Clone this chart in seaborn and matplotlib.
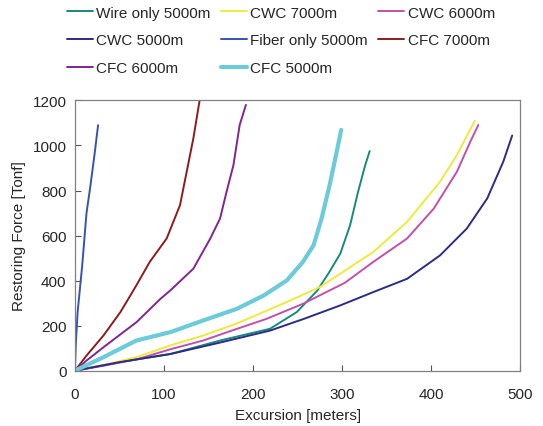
import pandas as pd
import matplotlib
matplotlib.use("Agg")
import matplotlib.pyplot as plt
import seaborn as sns

# --- Data (excursion [m], restoring force [Tonf]) ---
wire_5000_x = [0, 50, 107, 163, 219, 249, 272, 286, 298, 309, 318, 326, 331]
wire_5000_y = [0, 38, 74, 134, 186, 260, 355, 440, 520, 646, 795, 913, 975]

cwc_7000_x = [0, 32, 69, 107, 144, 182, 238, 275, 298, 335, 373, 410, 429, 449]
cwc_7000_y = [0, 25, 60, 112, 156, 210, 305, 371, 431, 527, 661, 839, 958, 1109]

cwc_6000_x = [0, 32, 69, 107, 144, 182, 215, 256, 303, 335, 373, 403, 429, 444, 453]
cwc_6000_y = [0, 22, 50, 95, 134, 186, 230, 297, 390, 483, 587, 720, 884, 1017, 1091]

cwc_5000_x = [0, 50, 107, 163, 219, 257, 298, 335, 373, 410, 440, 463, 481, 491]
cwc_5000_y = [0, 38, 74, 125, 178, 230, 290, 349, 408, 512, 631, 765, 928, 1044]

fiber_5000_x = [0, 1, 3, 8, 13, 17, 22, 26]
fiber_5000_y = [0, 120, 260, 460, 700, 810, 960, 1090]

cfc_7000_x = [0, 13, 32, 51, 60, 69, 84, 103, 118, 127, 133, 140]
cfc_7000_y = [0, 67, 156, 260, 319, 379, 483, 587, 735, 913, 1032, 1200]

cfc_6000_x = [0, 13, 32, 69, 96, 107, 133, 152, 163, 170, 178, 185, 192]
cfc_6000_y = [0, 45, 104, 215, 319, 356, 453, 587, 676, 790, 913, 1091, 1180]

cfc_5000_x = [0, 32, 69, 107, 144, 182, 212, 238, 256, 268, 277, 286, 294, 299]
cfc_5000_y = [0, 60, 134, 171, 223, 275, 334, 401, 483, 557, 676, 824, 973, 1069]

series = [
    ("Wire only 5000m", wire_5000_x, wire_5000_y, "#178a80", 1.4),
    ("CWC 7000m", cwc_7000_x, cwc_7000_y, "#eeea3c", 1.4),
    ("CWC 6000m", cwc_6000_x, cwc_6000_y, "#c150aa", 1.4),
    ("CWC 5000m", cwc_5000_x, cwc_5000_y, "#2b2d82", 1.4),
    ("Fiber only 5000m", fiber_5000_x, fiber_5000_y, "#3454b4", 1.4),
    ("CFC 7000m", cfc_7000_x, cfc_7000_y, "#8c1c1c", 1.4),
    ("CFC 6000m", cfc_6000_x, cfc_6000_y, "#812590", 1.4),
    ("CFC 5000m", cfc_5000_x, cfc_5000_y, "#6ccbd8", 3.0),
]

sns.set_style("white")
plt.rcParams["font.family"] = ["Liberation Sans", "DejaVu Sans"]

fig = plt.figure(figsize=(5.43, 4.27), dpi=100)
ax = fig.add_axes([0.138, 0.1295, 0.82, 0.633])

handles = {}
for name, xs, ys, color, lw in series:
    df = pd.DataFrame({"x": xs, "y": ys})
    sns.lineplot(data=df, x="x", y="y", ax=ax, color=color, linewidth=lw,
                 sort=False, estimator=None, label=name)
    handles[name] = ax.get_lines()[-1]
ax.get_legend().remove()

ax.set_xlim(0, 500)
ax.set_ylim(0, 1200)
ax.set_xticks(range(0, 501, 100))
ax.set_yticks(range(0, 1201, 200))
ax.tick_params(direction="in", length=4, width=0.8, color="#555555",
               labelsize=11, bottom=True, left=True)
ax.tick_params(axis="x", pad=12)
ax.tick_params(axis="y", pad=6)
for sp in ax.spines.values():
    sp.set_color("#808080")
    sp.set_linewidth(0.9)
ax.set_xlabel("Excursion [meters]", fontsize=11, labelpad=5)
ax.set_ylabel("Restoring Force [Tonf]", fontsize=11, labelpad=5)

# legend fills column-wise, so order entries to read row-wise like the original
order = ["Wire only 5000m", "CWC 5000m", "CFC 6000m",
         "CWC 7000m", "Fiber only 5000m", "CFC 5000m",
         "CWC 6000m", "CFC 7000m"]
fig.legend([handles[n] for n in order], order, ncol=3, frameon=False,
           loc="upper left", bbox_to_anchor=(0.115, 0.995), fontsize=11,
           handlelength=1.7, handletextpad=0.2, columnspacing=0.7,
           labelspacing=0.9, borderpad=0.3, borderaxespad=0)

fig.savefig("out.png", dpi=100)
